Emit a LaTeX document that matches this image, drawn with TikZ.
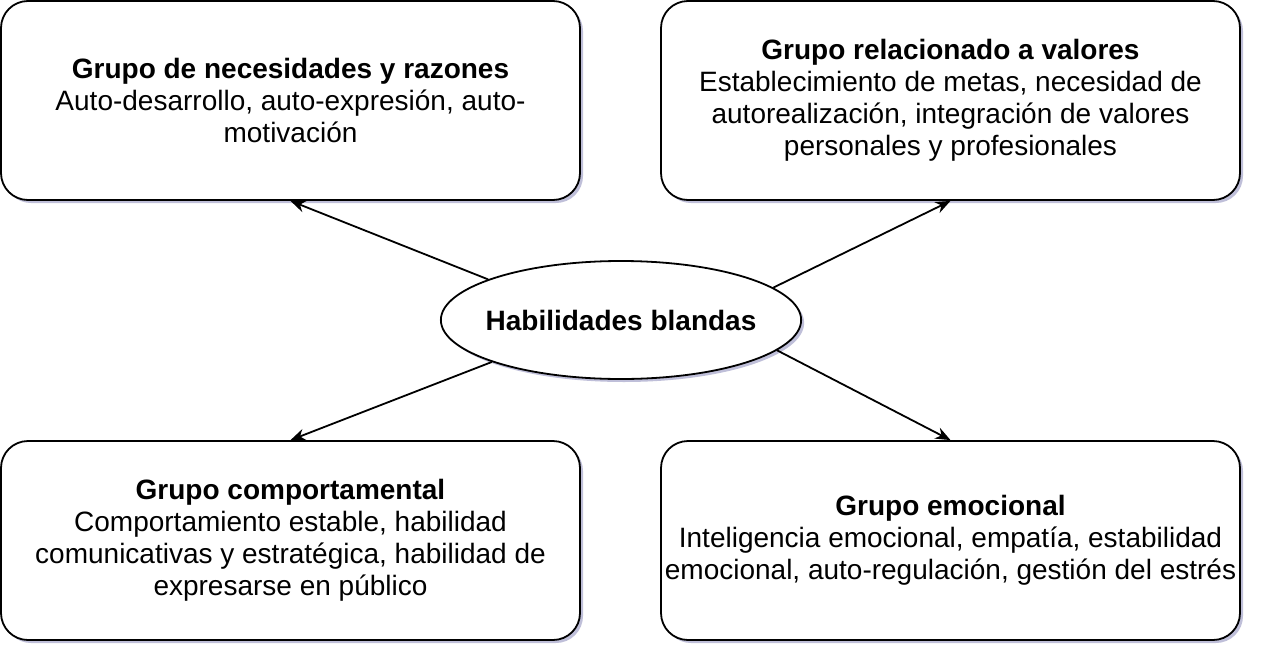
\documentclass[tikz,border=0pt]{standalone}
\usepackage{fontspec}
\setmainfont{Liberation Sans}
\usetikzlibrary{shapes.geometric,shadows,arrows.meta}

\begin{document}
\begin{tikzpicture}[x=1pt,y=-1pt,>={Stealth[length=15pt,width=12pt]},line width=1.8pt,font=\fontsize{28}{32}\selectfont,
                grupo/.style={draw,rounded corners=27pt,fill=white,align=center,
                        minimum width=579pt,minimum height=199pt,
                        drop shadow={shadow xshift=3pt,shadow yshift=-3pt,opacity=0.25,fill=black!60!blue}},
                centro/.style={draw,ellipse,fill=white,inner xsep=-8pt,inner ysep=0pt,
                        minimum width=358pt,minimum height=118pt,
                        drop shadow={shadow xshift=3pt,shadow yshift=-3pt,opacity=0.25,fill=black!60!blue}}]
                \useasboundingbox (0,0) rectangle (1264,664);
                \node[grupo] (gNec) at (290.5,100.5) {\textbf{Grupo de necesidades y razones}\\Auto-desarrollo, auto-expresión, auto-\\motivación};
                \node[grupo] (gVal) at (950.5,100.5) {\textbf{Grupo relacionado a valores}\\Establecimiento de metas, necesidad de\\autorealización, integración de valores\\personales y profesionales};
                \node[grupo] (gComp) at (290.5,540.5) {\textbf{Grupo comportamental}\\Comportamiento estable, habilidad\\comunicativas y estratégica, habilidad de\\expresarse en público};
                \node[grupo] (gEmo) at (950.5,540.5) {\textbf{Grupo emocional}\\Inteligencia emocional, empatía, estabilidad\\emocional, auto-regulación, gestión del estrés};
                \node[centro] (hab) at (621,320) {\textbf{Habilidades blandas}};
                \draw[->] (hab.163) -- (gNec.south);
                \draw[->] (hab.12) -- (gVal.south);
                \draw[->] (hab.198) -- (gComp.north);
                \draw[->] (hab.349) -- (gEmo.north);
            \end{tikzpicture}
\end{document}
